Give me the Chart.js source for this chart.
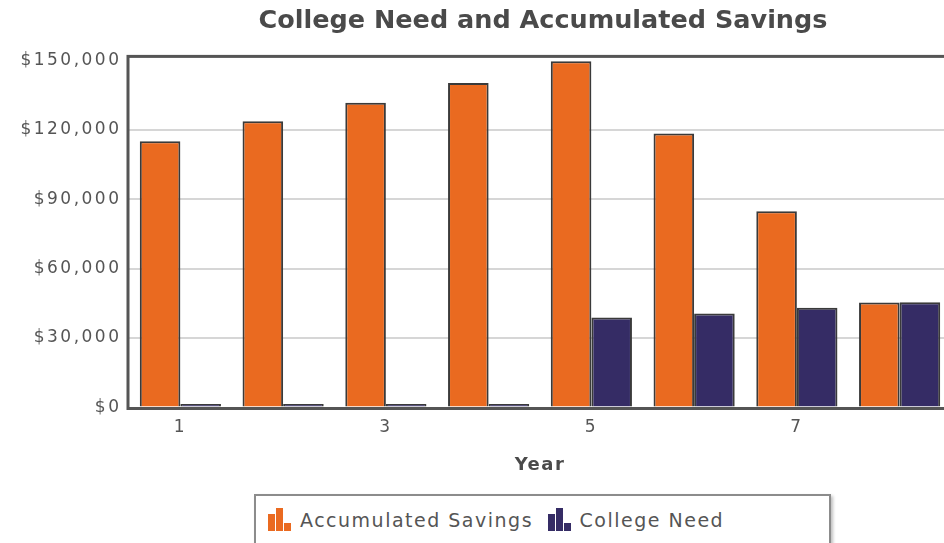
<!DOCTYPE html>
<html>
<head>
<meta charset="utf-8">
<title>College Need and Accumulated Savings</title>
<script src="https://cdn.jsdelivr.net/npm/chart.js@4.4.1/dist/chart.umd.min.js"></script>
<style>
	html, body { margin: 0; padding: 0; overflow: hidden; background: #fff; }
	#wrap { position: relative; width: 1086px; height: 543px; }
	#box { position: absolute; left: 0; top: 0; width: 1086px; height: 484px; }
	#legend {
		position: absolute; left: 254px; top: 494px; width: 561px; height: 60px;
		padding: 12px 0 0 12px; border: 2px solid #8c8c8c;
		box-shadow: 2px 2px 3px rgba(0, 0, 0, .25);
		display: flex; align-items: flex-start;
		font: 19px "DejaVu Sans", sans-serif; letter-spacing: 1.5px; color: #555; line-height: 22px;
	}
	.item { display: flex; align-items: center; margin-right: 14.5px; }
	.icon { display: flex; align-items: flex-end; gap: 1px; width: 24px; height: 23px; margin-right: 8px; }
	.icon span { display: block; width: 7px; }
</style>
</head>
<body>
<div id="wrap">
	<div id="box"><canvas id="demoChart"></canvas></div>
	<div id="legend"></div>
</div>
<script>
const years = ["1", "2", "3", "4", "5", "6", "7", "8"];
const savings = [115000, 123700, 131700, 140200, 149600, 118400, 84800, 45400];
const need = [1500, 1500, 1500, 1500, 38900, 40600, 43100, 45500];
const yTicks = [0, 30000, 60000, 90000, 120000, 150000];
const seriesNames = ["Accumulated Savings", "College Need"];
const seriesColors = ["#EA6A20", "#352C65"];

const font = "DejaVu Sans";
const tickSpacing = "2.5px";

// canvas letter spacing: wide for the axis labels, none for the title
const spacing = {
	id: "spacing",
	beforeInit(chart) {
		Chart.layouts.addBox(chart, {
			position: "chartArea",
			weight: 0,
			fullSize: false,
			options: {},
			isHorizontal() { return true; },
			update() {},
			draw() {},
			_layers() {
				return [
					{ z: -0.5, draw: () => { chart.ctx.letterSpacing = "0px"; } },
					{ z: 0.5, draw: () => { chart.ctx.letterSpacing = tickSpacing; } },
				];
			},
		});
	},
	beforeLayout(chart) { chart.ctx.letterSpacing = tickSpacing; },
	afterLayout(chart) { chart.ctx.letterSpacing = "0px"; },
	beforeDraw(chart) { chart.ctx.letterSpacing = "1.5px"; },
	afterDraw(chart) { chart.ctx.letterSpacing = "0px"; },
};

// dark frame round the plot
const frame = {
	id: "frame",
	afterDraw(chart) {
		const { ctx, chartArea: a } = chart;
		ctx.save();
		ctx.strokeStyle = "#555";
		ctx.lineWidth = 3;
		ctx.strokeRect(a.left - 1, a.top, a.right - a.left + 2, a.bottom + 1 - a.top);
		ctx.restore();
	},
};

const ctx = document.getElementById("demoChart");

const myChart = new Chart(ctx, {
	type: "bar",
	data: {
		labels: years,
		datasets: [
			{
				label: seriesNames[0],
				data: savings,
				backgroundColor: seriesColors[0],
				borderColor: "#3a3a3a",
				borderWidth: 2,
			},
			{
				label: seriesNames[1],
				data: need,
				backgroundColor: seriesColors[1],
				borderColor: "#3a3a3a",
				borderWidth: 2,
			},
		],
	},
	options: {
		responsive: true,
		maintainAspectRatio: false,
		animation: false,
		datasets: {
			bar: { barPercentage: 1, categoryPercentage: 0.79 },
		},
		layout: {
			padding: { left: 0, right: 0, top: 0, bottom: 4 },
		},
		plugins: {
			legend: { display: false },
			tooltip: { enabled: false },
			title: {
				display: true,
				text: "College Need and Accumulated Savings",
				color: "#4a4a4a",
				font: { family: font, size: 25.5, weight: "bold" },
				padding: { top: 6, bottom: 19.8 },
			},
		},
		scales: {
			x: {
				afterFit: (scale) => {
					scale.height = 72.5;
				},
				grid: { display: false, drawTicks: false },
				border: { display: false },
				ticks: {
					z: 1,
					color: "#555",
					font: { family: font, size: 17 },
					padding: 10,
					autoSkip: false,
					maxRotation: 0,
					callback: (v, i) => (i % 2 === 0 ? years[i] : ""),
				},
				title: {
					display: true,
					text: "Year",
					color: "#4a4a4a",
					font: { family: font, size: 18, weight: "bold" },
					padding: { top: 17.5, bottom: 4 },
				},
			},
			y: {
				min: 0,
				max: 151700,
				afterBuildTicks: (scale) => {
					scale.ticks = yTicks.map((v) => ({ value: v }));
				},
				afterFit: (scale) => {
					scale.width = 129;
				},
				grid: {
					color: (c) => (c.tick && c.tick.value === 150000 ? "rgba(0,0,0,0)" : "#d6d6d6"),
					lineWidth: 2,
					drawTicks: false,
				},
				border: { display: false },
				ticks: {
					z: 1,
					color: "#555",
					font: { family: font, size: 17 },
					padding: 7.5,
					callback: (v) => "$" + v.toLocaleString("en-US"),
				},
			},
			// empty right margin, the plot runs past the window edge
			yPad: {
				type: "linear",
				position: "right",
				afterFit: (scale) => {
					scale.width = 135;
				},
				grid: { display: false, drawTicks: false },
				border: { display: false },
				ticks: { display: false },
			},
		},
	},
	plugins: [spacing, frame],
});

// html legend with little bar icons
const legendBox = document.getElementById("legend");
myChart.data.datasets.forEach((ds) => {
	const item = document.createElement("div");
	item.className = "item";
	const icon = document.createElement("div");
	icon.className = "icon";
	[17, 23, 8].forEach((h) => {
		const s = document.createElement("span");
		s.style.height = h + "px";
		s.style.background = ds.backgroundColor;
		icon.appendChild(s);
	});
	const text = document.createElement("span");
	text.textContent = ds.label;
	item.appendChild(icon);
	item.appendChild(text);
	legendBox.appendChild(item);
});
</script>
</body>
</html>
